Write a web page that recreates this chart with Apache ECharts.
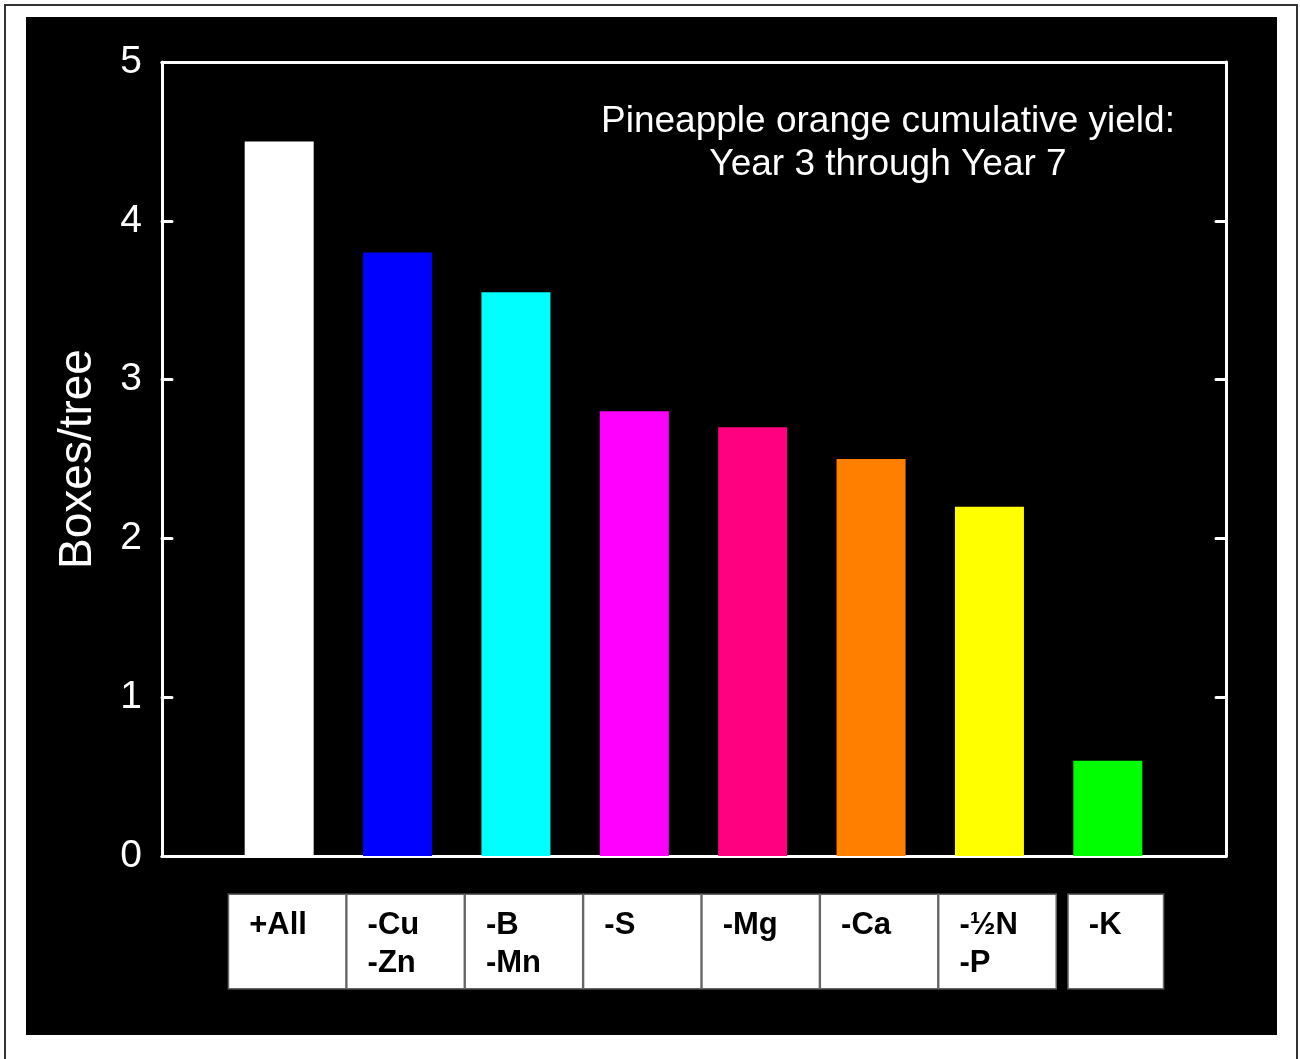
<!DOCTYPE html>
<html><head><meta charset="utf-8">
<script src="https://cdn.jsdelivr.net/npm/echarts@6/dist/echarts.min.js"></script>
<style>html,body{margin:0;padding:0;background:#fff}#c{width:1300px;height:1059px}</style>
</head><body><div id="c"></div>
<script>
// ---- data ----
const categories = ['+All', '-Cu\n-Zn', '-B\n-Mn', '-S', '-Mg', '-Ca', '-½N\n-P', '-K'];
const yields = [4.5, 3.8, 3.55, 2.8, 2.7, 2.5, 2.2, 0.6];
const barColors = ['#ffffff', '#0000ff', '#00ffff', '#ff00ff', '#ff0080', '#ff8000', '#ffff00', '#00ff00'];
const yMin = 0, yMax = 5, yStep = 1;
const titleLines = ['Pineapple orange cumulative yield:', 'Year 3 through Year 7'];
const yName = 'Boxes/tree';

const FONT = '"Liberation Sans", Arial, sans-serif';
const chart = echarts.init(document.getElementById('c'), null, {renderer: 'canvas'});

const frameLine = {show: true, onZero: false, lineStyle: {color: '#fff', width: 3, cap: 'round', join: 'round'}};
const frameTick = {show: true, inside: true, length: 10, lineStyle: {color: '#fff', width: 3, cap: 'round'}};

const labelData = categories.map((c, i) => i === categories.length - 1 ? {value: c, textStyle: {width: 74}} : c);

const option = {
  backgroundColor: '#ffffff',
  animation: false,
  graphic: [
    {type: 'rect', z: -20, shape: {x: 5, y: 5, width: 1292, height: 1060}, style: {fill: '#fff', stroke: '#333', lineWidth: 2}},
    {type: 'rect', z: -10, shape: {x: 26, y: 17, width: 1251, height: 1018}, style: {fill: '#000'}}
  ],
  title: {
    text: titleLines.join('\n'),
    left: 888, top: 100, padding: 0, textAlign: 'center',
    textStyle: {color: '#fff', fontSize: 37, fontWeight: 'normal', lineHeight: 43, fontFamily: FONT}
  },
  grid: [
    {left: 220, top: 62, width: 947, height: 794},
    {left: 162, top: 62, width: 1064, height: 794},
    {left: 228, top: 62, width: 947, height: 794}
  ],
  xAxis: [
    {type: 'category', gridIndex: 0, data: categories, show: false},
    {type: 'value', gridIndex: 1, min: 0, max: 1, position: 'bottom', axisLine: frameLine, axisTick: {show: false}, axisLabel: {show: false}, splitLine: {show: false}},
    {type: 'value', gridIndex: 1, min: 0, max: 1, position: 'top', axisLine: frameLine, axisTick: {show: false}, axisLabel: {show: false}, splitLine: {show: false}},
    {type: 'category', gridIndex: 2, data: labelData, position: 'bottom',
      axisLine: {show: false}, axisTick: {show: false}, splitLine: {show: false},
      axisLabel: {
        interval: 0, margin: 39,
        backgroundColor: '#fff', borderColor: '#666', borderWidth: 1.5,
        width: 96, height: 76, padding: [11, 0, 6, 20],
        formatter: v => v.split('\n').map(s => '{t|' + s + '}').join('\n'),
        rich: {t: {fontSize: 31, fontWeight: 'bold', lineHeight: 38, align: 'left', color: '#000', fontFamily: FONT}}
      }
    }
  ],
  yAxis: [
    {type: 'value', gridIndex: 0, min: yMin, max: yMax, interval: yStep, show: false},
    {type: 'value', gridIndex: 1, min: yMin, max: yMax, interval: yStep, position: 'left',
      axisLine: frameLine, axisTick: frameTick, splitLine: {show: false},
      axisLabel: {color: '#fff', fontSize: 39, margin: 20, fontFamily: FONT},
      name: yName, nameLocation: 'middle', nameGap: 61,
      nameTextStyle: {color: '#fff', fontSize: 46, fontFamily: FONT}
    },
    {type: 'value', gridIndex: 1, min: yMin, max: yMax, interval: yStep, position: 'right',
      axisLine: frameLine, axisTick: frameTick, splitLine: {show: false}, axisLabel: {show: false}},
    {type: 'value', gridIndex: 2, min: yMin, max: yMax, show: false}
  ],
  series: [{
    type: 'bar', xAxisIndex: 0, yAxisIndex: 0, barWidth: 69,
    data: yields.map((v, i) => ({value: v, itemStyle: {color: barColors[i]}}))
  }]
};
chart.setOption(option);
</script></body></html>
